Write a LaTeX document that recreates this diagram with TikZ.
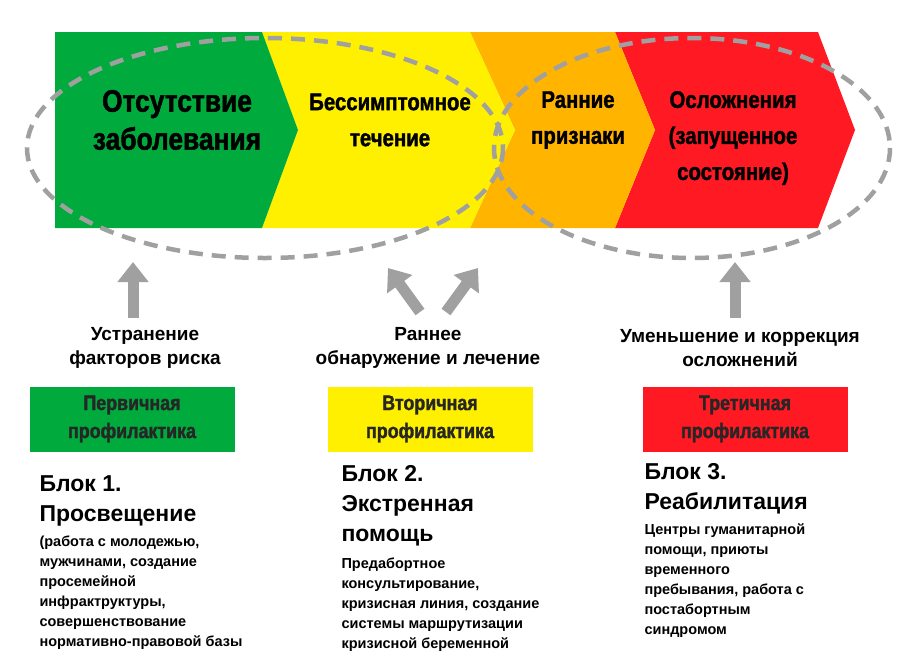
\documentclass[tikz,border=0pt]{standalone}
\usepackage{fontspec}
\setmainfont{Liberation Sans}
\newfontfamily\narrowf[FakeStretch=0.85,FakeBold=1.5]{Liberation Sans Bold}
\usetikzlibrary{arrows.meta}
\definecolor{cgreen}{RGB}{0,170,60}
\definecolor{cyellow}{RGB}{255,240,0}
\definecolor{corange}{RGB}{255,180,0}
\definecolor{cred}{RGB}{255,25,35}
\definecolor{cgray}{RGB}{160,160,160}
\tikzset{
 band/.style={align=center, text=black},
 lbl/.style={font=\bfseries\fontsize{19}{24}\selectfont, align=center},
 pbox/.style={minimum width=205pt, minimum height=65pt, font=\narrowf\fontsize{21}{28}\selectfont, align=center, text=black!85},
 blkh/.style={font=\bfseries\fontsize{23}{30}\selectfont, align=left, anchor=north west},
 blkt/.style={font=\bfseries\fontsize{14.5}{20}\selectfont, align=left, anchor=north west},
 fat/.style={draw=cgray, line width=11pt, -{Triangle[length=20pt,width=30pt]}},
 ring/.style={draw=cgray, line width=4.5pt, dash pattern=on 14pt off 9pt}
}
\begin{document}
\begin{tikzpicture}[x=1pt,y=-1pt]
\useasboundingbox (0,0) rectangle (919,670);
% band
\fill[cred] (615,32) -- (818,32) -- (855,130) -- (818,228) -- (615,228) -- (655,130) -- cycle;
\fill[corange] (470,32) -- (615,32) -- (655,130) -- (615,228) -- (470,228) -- (515,130) -- cycle;
\fill[cyellow] (262,32) -- (470,32) -- (515,130) -- (470,228) -- (262,228) -- (298,130) -- cycle;
\fill[cgreen] (55,32) -- (262,32) -- (298,130) -- (262,228) -- (55,228) -- cycle;
\node[band, font=\narrowf\fontsize{31}{38}\selectfont] (t1) at (177,120) {Отсутствие\\заболевания};
\node[band, font=\narrowf\fontsize{24}{36}\selectfont] (t2) at (390,120) {Бессимптомное\\течение};
\node[band, font=\narrowf\fontsize{24}{36}\selectfont] (t3) at (578,120) {Ранние\\признаки};
\node[band, font=\narrowf\fontsize{24}{36}\selectfont] (t4) at (733,138) {Осложнения\\(запущенное\\состояние)};
% rings
\draw[ring] (265,148) ellipse (238 and 110);
\draw[ring] (692,148) ellipse (198 and 110);
% labels
\node[lbl] (l1) at (145,348) {Устранение\\факторов риска};
\node[lbl] (l2) at (428,348) {Раннее\\обнаружение и лечение};
\node[lbl] (l3) at (740,348) {Уменьшение и коррекция\\осложнений};
\coordinate (a1) at (133,262);
\coordinate (a2) at (388,268);
\coordinate (a3) at (478,268);
\coordinate (a4) at (735,262);
\draw[fat] (133,318) -- (a1);
\draw[fat] (420,312) -- (a2);
\draw[fat] (446,312) -- (a3);
\draw[fat] (735,318) -- (a4);
% boxes
\node[pbox, fill=cgreen] (p1) at (132,419) {Первичная\\профилактика};
\node[pbox, fill=cyellow] (p2) at (430,419) {Вторичная\\профилактика};
\node[pbox, fill=cred] (p3) at (745,419) {Третичная\\профилактика};
% blocks
\node[blkh] (b1) at (36,472) {Блок 1.\\Просвещение};
\node[blkt] (c1) at (36,532) {(работа с молодежью,\\мужчинами, создание\\просемейной\\инфрактруктуры,\\совершенствование\\нормативно-правовой базы};
\node[blkh] (b2) at (338,462) {Блок 2.\\Экстренная\\помощь};
\node[blkt] (c2) at (338,554) {Предабортное\\консультирование,\\кризисная линия, создание\\системы маршрутизации\\кризисной беременной};
\node[blkh] (b3) at (641,460) {Блок 3.\\Реабилитация};
\node[blkt] (c3) at (641,520) {Центры гуманитарной\\помощи, приюты\\временного\\пребывания, работа с\\постабортным\\синдромом};
\end{tikzpicture}
\end{document}
